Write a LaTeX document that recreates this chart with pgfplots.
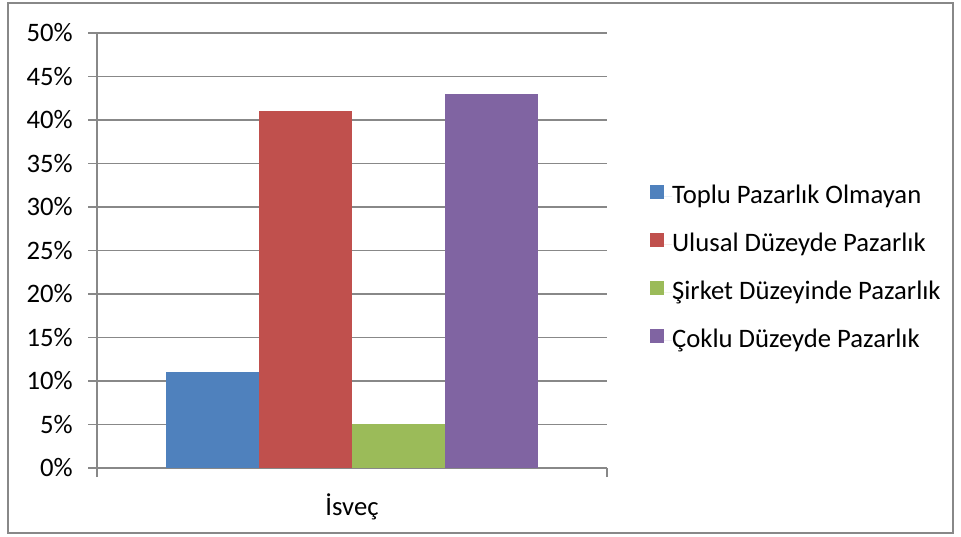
\documentclass[border=0pt]{standalone}
\usepackage{fontspec}
\setmainfont{Carlito}
\usepackage{pgfplots}
\pgfplotsset{compat=1.18}
\definecolor{cblue}{HTML}{4F81BD}
\definecolor{cred}{HTML}{C0504D}
\definecolor{cgreen}{HTML}{9BBB59}
\definecolor{cpurple}{HTML}{8064A2}
\definecolor{cgrid}{HTML}{888888}
\begin{document}
\begin{tikzpicture}
\path[use as bounding box] (0,0) rectangle (720.75pt,402pt);
\draw[color=cgrid, line width=1.1pt] (6pt,2.25pt) rectangle (714.75pt,399.75pt);
\begin{axis}[
  at={(72.75pt,51pt)}, anchor=south west,
  scale only axis, width=382.5pt, height=326.25pt,
  xmin=-0.5, xmax=0.5, ymin=0, ymax=50,
  ybar=0pt, bar width=69.75pt,
  axis lines*=left,
  axis line style={cgrid, line width=1.1pt},
  tick align=outside,
  major tick length=6.75pt, minor tick length=6.75pt,
  tick style={cgrid, line width=1.1pt},
  ytick={0,5,...,50},
  yticklabel={\pgfmathprintnumber{\tick}\%},
  /pgf/number format/assume math mode=true,
  ymajorgrids, grid style={cgrid, line width=1.1pt},
  xtick={0}, xticklabels={İsveç},
  major x tick style={draw=none},
  minor xtick={-0.5,0.5},
  ticklabel style={font=\fontsize{20}{24}\selectfont},
  yticklabel style={xshift=-8pt},
  xticklabel style={yshift=-9pt},
  legend style={draw=none, at={(1.084,0.4586)}, anchor=west, inner sep=0pt,
    font=\fontsize{20}{24}\selectfont, row sep=18pt,
    nodes={text height=14pt, text depth=4pt, inner sep=0pt}},
  legend cell align=left,
  legend image code/.code={\fill[#1] (0pt,-2pt) rectangle (10.5pt,8.5pt); \path (0pt,0pt) -- (16.5pt,0pt);},
]
\addplot[fill=cblue, draw=none] coordinates {(0,11)};
\addplot[fill=cred, draw=none] coordinates {(0,41)};
\addplot[fill=cgreen, draw=none] coordinates {(0,5)};
\addplot[fill=cpurple, draw=none] coordinates {(0,43)};
\legend{Toplu Pazarlık Olmayan, Ulusal Düzeyde Pazarlık, Şirket Düzeyinde Pazarlık, Çoklu Düzeyde Pazarlık}
\end{axis}
\end{tikzpicture}
\end{document}
